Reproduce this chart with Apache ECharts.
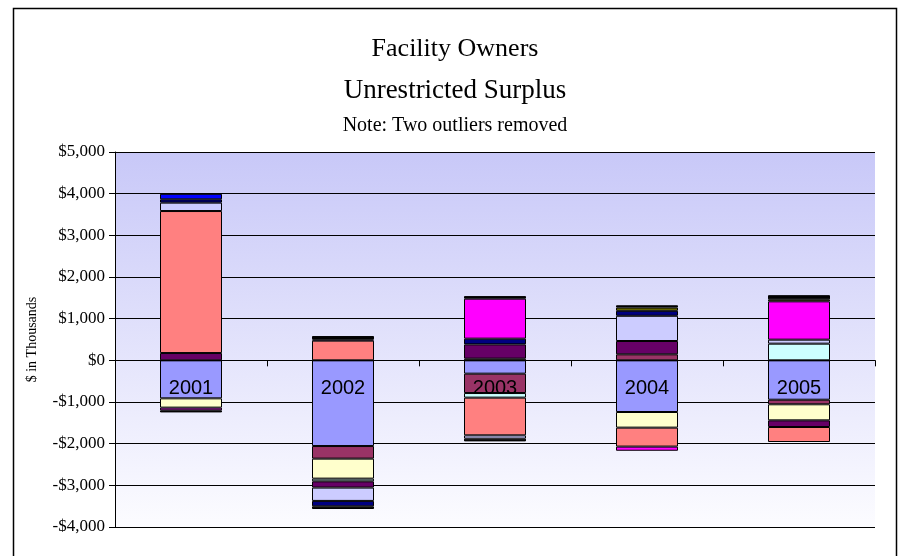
<!DOCTYPE html>
<html>
<head>
<meta charset="utf-8">
<title>Facility Owners - Unrestricted Surplus</title>
<script src="https://cdn.jsdelivr.net/npm/echarts@6/dist/echarts.min.js"></script>
<style>
  html, body { margin: 0; padding: 0; background: #fff; }
  #chart { width: 910px; height: 556px; }
</style>
</head>
<body>
<div id="chart"></div>
<script>
// categories
const years = ['2001', '2002', '2003', '2004', '2005']

// segment values, $ in thousands
const owner1 = [-912, -2057, -320, -1240, -945]
const owner2 = [0, -302, -465, 144, -110]
const owner3 = [-223, -480, 40, -375, -385]
const owner4 = [0, -65, -110, 0, 400]
const owner5 = [175, -150, 343, 320, -160]
const owner6 = [3408, 473, -905, -455, -360]
const owner7 = [202, -320, -80, 605, 96]
const owner8 = [79, -130, 137, 120, 0]
const owner9 = [-65, 0, 960, -100, 920]
const owner10 = [0, 30, 0, 0, 0]
const owner11 = [132, 0, 0, 0, 0]
const owner12 = [0, 0, 0, 77, 48]
const owner13 = [0, 80, 62, 55, 100]
const owner14 = [-50, -64, -65, 0, 0]

// y axis ticks
const yMin = -4000
const yMax = 5000
const yStep = 1000

const owners = [owner1, owner2, owner3, owner4, owner5, owner6, owner7,
    owner8, owner9, owner10, owner11, owner12, owner13, owner14]
const colors = ['#9999FF', '#993366', '#FFFFCC', '#CCFFFF', '#660066', '#FF8080',
    '#CCCCFF', '#000080', '#FF00FF', '#800080', '#0000FF', '#808000', '#000000', '#111111']

const chart = echarts.init(document.getElementById('chart'))

const series = owners.map((vals, i) => ({
    name: 'Owner ' + (i + 1),
    type: 'bar',
    stack: 'total',
    barWidth: 62,
    data: vals.map(v => (v === 0 ? '-' : v)),
    itemStyle: { color: colors[i], borderColor: '#000', borderWidth: 1 },
    emphasis: { disabled: true }
}))

const serif = 'Liberation Serif, Times New Roman, serif'

// the category axis sits on the zero line, like the original
const gridTop = 152
const gridBottom = 29
const plotH = 556 - gridTop - gridBottom
const zeroOffset = -plotH * (0 - yMin) / (yMax - yMin)

const option = {
    animation: false,
    backgroundColor: '#fff',
    title: [
        { text: 'Facility Owners', left: 'center', top: 36, padding: 0,
          textStyle: { fontSize: 26, fontWeight: 'normal', fontFamily: serif, color: '#000' } },
        { text: 'Unrestricted Surplus', left: 'center', top: 77, padding: 0,
          textStyle: { fontSize: 27, fontWeight: 'normal', fontFamily: serif, color: '#000' } },
        { text: 'Note: Two outliers removed', left: 'center', top: 116, padding: 0,
          textStyle: { fontSize: 20, fontWeight: 'normal', fontFamily: serif, color: '#000' } }
    ],
    graphic: [
        { type: 'rect', shape: { x: 13.5, y: 8.5, width: 883, height: 580 },
          style: { fill: 'none', stroke: '#000', lineWidth: 1.5 }, silent: true }
    ],
    grid: {
        left: 115, right: 35, top: gridTop, bottom: gridBottom,
        containLabel: false,
        outerBoundsMode: 'none',
        show: true, borderWidth: 0,
        backgroundColor: {
            type: 'linear', x: 0, y: 0, x2: 0, y2: 1,
            colorStops: [{ offset: 0, color: '#C8C8F8' }, { offset: 1, color: '#FCFCFF' }]
        }
    },
    xAxis: {
        type: 'category',
        data: years,
        z: 10,
        position: 'bottom',
        offset: zeroOffset,
        axisLine: { onZero: false, lineStyle: { color: '#000', width: 1 } },
        axisTick: { show: true, length: 6, lineStyle: { color: '#000' } },
        axisLabel: { margin: 18, fontSize: 20, fontFamily: 'Liberation Sans, Arial, sans-serif', color: '#000' },
        splitLine: { show: false }
    },
    yAxis: {
        type: 'value',
        min: yMin, max: yMax, interval: yStep,
        name: '$ in Thousands',
        nameLocation: 'middle',
        nameGap: 76,
        nameTextStyle: { fontSize: 14, fontFamily: serif, color: '#000' },
        axisLine: { show: true, lineStyle: { color: '#000' } },
        axisTick: { show: true, length: 6, lineStyle: { color: '#000' } },
        axisLabel: {
            fontSize: 17, fontFamily: serif, color: '#000', margin: 10,
            formatter: v => (v < 0 ? '-' : '') + '$' + Math.abs(v).toLocaleString('en-US')
        },
        splitLine: { show: true, lineStyle: { color: '#000', width: 1 } }
    },
    series: series
}

chart.setOption(option)
</script>
</body>
</html>
